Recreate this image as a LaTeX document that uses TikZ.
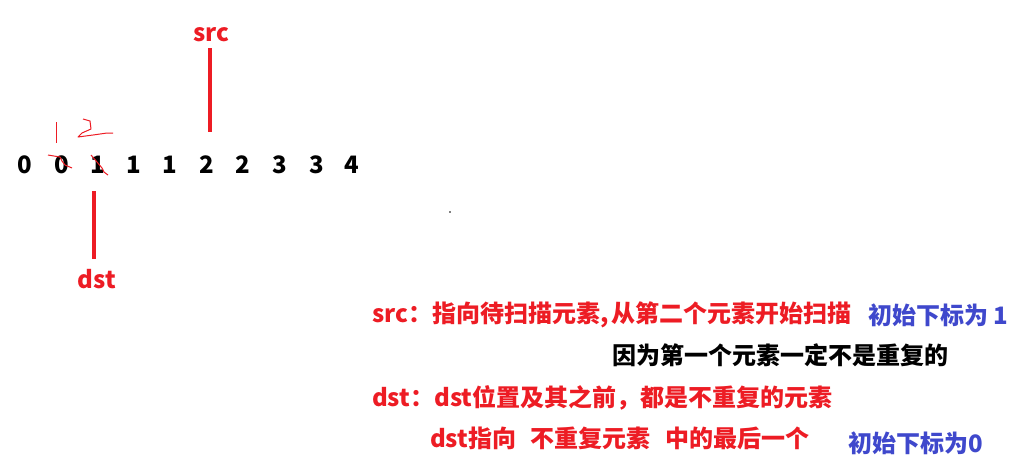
\documentclass[tikz,border=0pt]{standalone}
\usepackage{fontspec}
\setmainfont{Noto Sans CJK SC}
\newfontfamily\cjk{Noto Sans CJK SC}
\definecolor{pred}{HTML}{ED1C24}
\definecolor{pblue}{HTML}{3F48CC}
\begin{document}
\begin{tikzpicture}[x=1pt,y=-1pt,
  num/.style={font=\cjk\bfseries\fontsize{24}{24}\selectfont, inner sep=0pt, anchor=center},
  lab/.style={font=\cjk\bfseries\fontsize{24}{24}\selectfont, inner sep=0pt, anchor=west},
  ptr/.style={pred, line width=4pt},
  scrib/.style={pred, line width=1pt, line join=round}]
\useasboundingbox (0,0) rectangle (1025,475);
\fill[white] (0,0) rectangle (1025,475);
% array
\foreach \v/\x [count=\i] in {0/25,0/62,1/98,1/134,1/170,2/207,2/243,3/280,3/317,4/352}
  \node[num] (n\i) at (\x,165) {\v};
% pointers
\node[num, text=pred] (src) at (211,35) {src};
\node[num, text=pred] (dst) at (97,279) {dst};
\coordinate (srctop) at (210,48);
\coordinate (srcbot) at (210,132);
\coordinate (dsttop) at (94,191);
\coordinate (dstbot) at (94,259);
\draw[ptr] (srctop) -- (srcbot);
\draw[ptr] (dsttop) -- (dstbot);
% hand scribbles
\draw[scrib] (56,122) -- (56,143);
\draw[scrib] (83,119) -- (90,121) -- (91,129) -- (82,133) -- (79,136) -- (78,137) -- (93,135) -- (107,133) -- (113,133);
\draw[scrib] (48,155) -- (60,157) -- (62,161) -- (65,165) -- (72,168);
\draw[scrib] (91,155) -- (97,162) -- (102,168) -- (104,172) -- (108,175);
\fill[black] (450,212) circle (0.8);
% notes
\node[lab, text=pred] (l1) at (372,315) {src：指向待扫描元素,\hspace{0.1em}从第二个元素开始扫描};
\node[lab, text=pblue] (l1b) at (868,315) {初始下标为 1};
\node[lab, text=black] (l2) at (612,355) {因为第一个元素一定不是重复的};
\node[lab, text=pred] (l3) at (372,398) {dst：dst位置及其之前，都是不重复的元素};
\node[lab, text=pred] (l4) at (430,438) {dst指向\hspace{0.6em}不重复元素\hspace{0.6em}中的最后一个};
\node[lab, text=pblue] (l4b) at (848,443) {初始下标为0};
\end{tikzpicture}
\end{document}
